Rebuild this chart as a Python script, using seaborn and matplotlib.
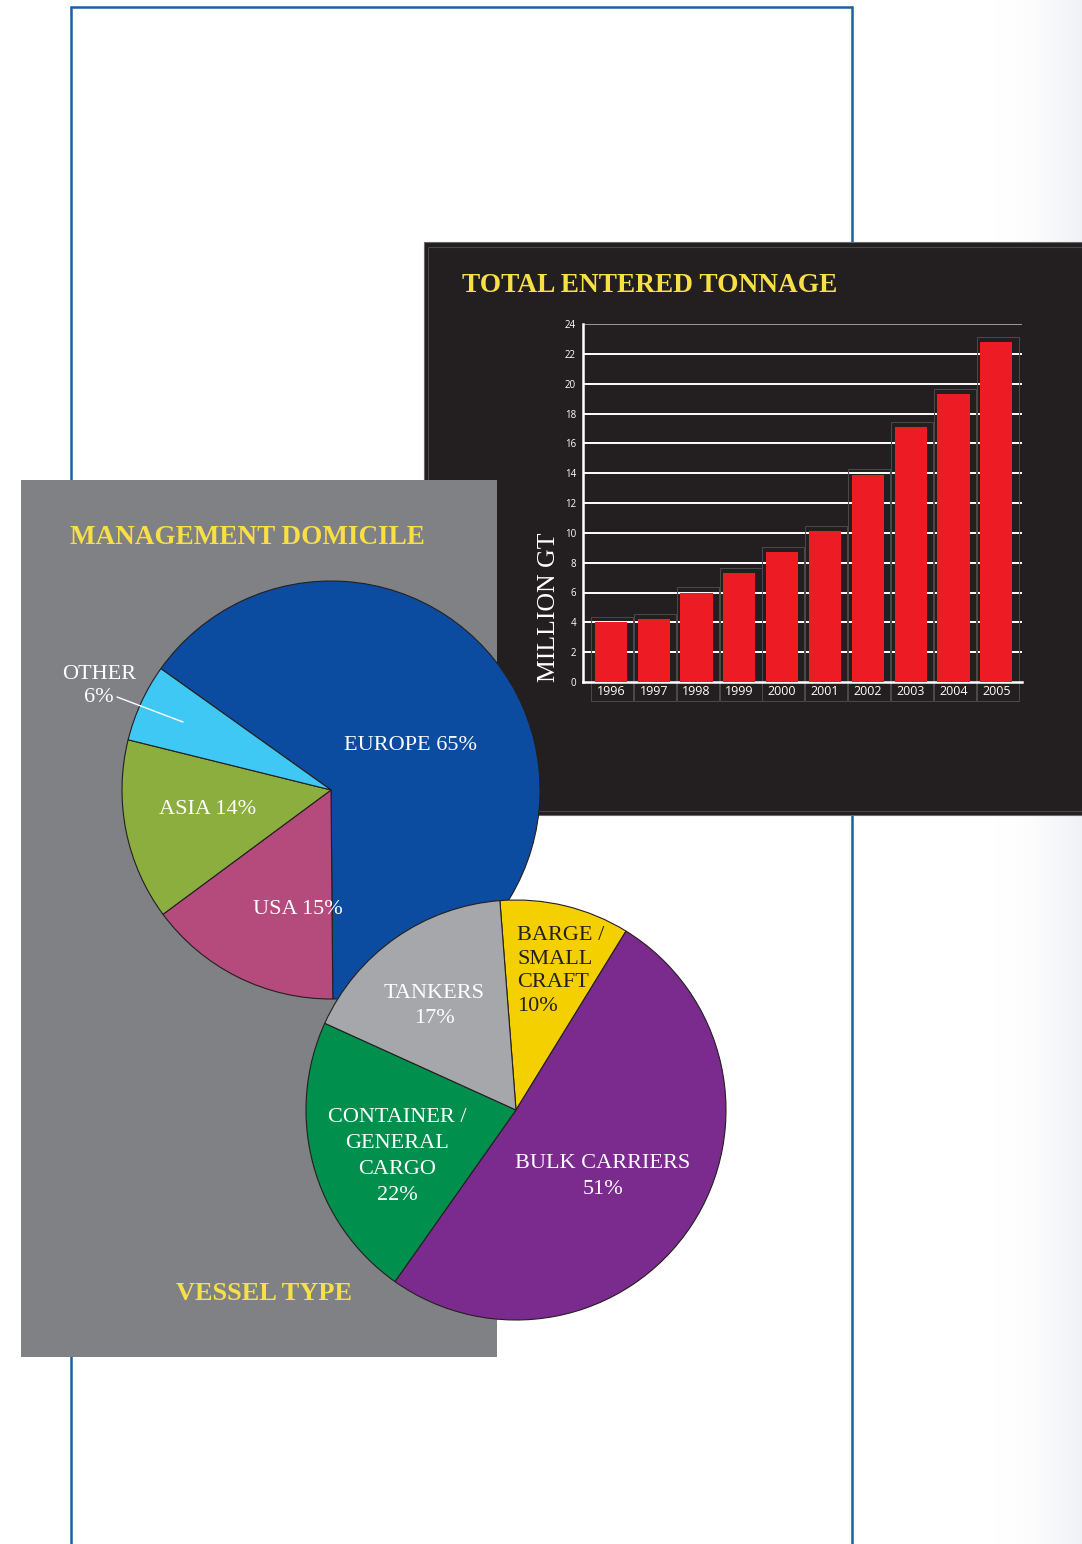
import numpy as np
import matplotlib
matplotlib.use("Agg")
import matplotlib.pyplot as plt
from matplotlib.patches import Rectangle
from matplotlib.lines import Line2D
from matplotlib.colors import LinearSegmentedColormap
import seaborn as sns

# ---- data -------------------------------------------------------------
years = ["1996", "1997", "1998", "1999", "2000",
         "2001", "2002", "2003", "2004", "2005"]
tonnage = [4.0, 4.2, 6.0, 7.3, 8.7, 10.1, 13.9, 17.1, 19.3, 22.8]

domicile_labels = ["EUROPE", "USA", "ASIA", "OTHER"]
domicile_share = [65, 15, 14, 6]

vessel_labels = ["BARGE /\nSMALL\nCRAFT", "BULK CARRIERS",
                 "CONTAINER /\nGENERAL\nCARGO", "TANKERS"]
vessel_share = [10, 51, 22, 17]

# ---- styling ------------------------------------------------------------
sns.set_theme(style="white")
plt.rcParams["font.family"] = ["Open Sans", "DejaVu Sans"]
SERIF = ["Liberation Serif", "DejaVu Serif"]
YELLOW = "#f8df45"
BLUE_FRAME = "#1a5fa8"
PANEL_DARK = "#231f20"
PANEL_GREY = "#808184"
BAR_RED = "#ed1c24"
domicile_colors = ["#0c4ca0", "#b54a7d", "#8cae3e", "#40c8f4"]
vessel_colors = ["#f5d000", "#7b2a8e", "#008f4c", "#a6a7ab"]

W, H = 1082, 1544
fig = plt.figure(figsize=(W / 100, H / 100), dpi=100)
fig.patch.set_facecolor("white")


def fx(px):
    return px / W


def fy(py):
    return 1 - py / H


# faint shading along the right page edge
shade = fig.add_axes([fx(990), 0, (W - 990) / W, 1])
shade.set_zorder(0.2)
shade.imshow(np.linspace(0, 1, 200)[None, :] ** 2, aspect="auto",
             cmap=LinearSegmentedColormap.from_list("edge", ["#ffffff", "#f0f1f6"]),
             extent=(0, 1, 0, 1))
shade.set_axis_off()

# blue page frame
for xs, ys in [((71, 71), (7, 1544)), ((852, 852), (7, 1544)), ((71, 852), (7, 7))]:
    fig.add_artist(Line2D([fx(xs[0]), fx(xs[1])], [fy(ys[0]), fy(ys[1])],
                          transform=fig.transFigure, color=BLUE_FRAME,
                          lw=1.8, zorder=0.5))

# dark panel behind the bar chart
fig.add_artist(Rectangle((fx(424), fy(815)), (W - 424) / W, (815 - 242) / H,
                         transform=fig.transFigure, facecolor=PANEL_DARK,
                         edgecolor="#6a6768", lw=0.8, zorder=1))
fig.add_artist(Rectangle((fx(428), fy(811)), (W - 428 + 5) / W, (811 - 247) / H,
                         transform=fig.transFigure, facecolor="none",
                         edgecolor="#4a4748", lw=0.8, zorder=1.1))
fig.text(fx(462), fy(285), "TOTAL ENTERED TONNAGE", family=SERIF,
         fontweight="bold", fontsize=19.7, color=YELLOW, ha="left",
         va="center", zorder=1.5)
fig.text(fx(549), fy(607), "MILLION GT", family=SERIF, fontsize=18.5,
         color="white", rotation=90, ha="center", va="center", zorder=1.5)

# ---- bar chart ----------------------------------------------------------
ax = fig.add_axes([fx(583), fy(682), (1022 - 583) / W, (682 - 324) / H])
ax.set_zorder(2)
ax.patch.set_alpha(0)
sns.barplot(x=years, y=tonnage, color=BAR_RED, saturation=1, width=0.75,
            ax=ax)
for bar in ax.patches:
    bar.set_zorder(3)
    bar.set_edgecolor("none")
for i, v in enumerate(tonnage):
    ax.add_patch(Rectangle((i - 0.46, -1.25), 0.98, v + 1.6, fill=False,
                           edgecolor="#4d4a4b", lw=0.7, clip_on=False,
                           zorder=2))
ax.set_xlim(-0.65, 9.6)
ax.set_ylim(0, 24)
ax.set_yticks(range(0, 25, 2))
for v in range(2, 25, 2):
    ax.axhline(v, color="white" if v < 24 else "#9a9a9a", lw=1.4, zorder=1)
for side in ["top", "right"]:
    ax.spines[side].set_visible(False)
for side in ["left", "bottom"]:
    ax.spines[side].set_color("white")
    ax.spines[side].set_linewidth(1.8)
ax.tick_params(axis="y", length=0, labelsize=7, labelcolor="white", pad=5)
ax.tick_params(axis="x", length=0, labelsize=9, labelcolor="white", pad=2)
ax.set_xlabel("")
ax.set_ylabel("")
ax.grid(False)

# grey panel with the two pies
fig.add_artist(Rectangle((fx(21), fy(1357)), (497 - 21) / W, (1357 - 480) / H,
                         transform=fig.transFigure, facecolor=PANEL_GREY,
                         edgecolor="none", zorder=3))
fig.text(fx(70), fy(537), "MANAGEMENT DOMICILE", family=SERIF,
         fontweight="bold", fontsize=19.5, color=YELLOW, ha="left",
         va="center", zorder=3.5)
fig.text(fx(264), fy(1294), "VESSEL TYPE", family=SERIF,
         fontweight="bold", fontsize=19, color=YELLOW, ha="center",
         va="center", zorder=3.5)


def pie_axes(cx, cy, r, z):
    a = fig.add_axes([fx(cx - r), fy(cy + r), 2 * r / W, 2 * r / H])
    a.set_zorder(z)
    a.patch.set_alpha(0)
    return a


def to_data(px, py, cx, cy, r):
    return (px - cx) / r, (cy - py) / r


# ---- management domicile pie -------------------------------------------
dcx, dcy, dr = 331, 790, 209
ax1 = pie_axes(dcx, dcy, dr, 4)
wedges, _ = ax1.pie(domicile_share, colors=domicile_colors, startangle=144.5,
                    counterclock=False, radius=1,
                    wedgeprops=dict(edgecolor="#231f20", linewidth=0.8))
for w in wedges:
    w.set_clip_on(False)
ax1.set_xlim(-1, 1)
ax1.set_ylim(-1, 1)
dom_pos = [(411, 746), (298, 909), (208, 809)]
for lab, val, (px, py) in zip(domicile_labels[:3], domicile_share[:3], dom_pos):
    x, y = to_data(px, py, dcx, dcy, dr)
    ax1.text(x, y, f"{lab} {val}%", family=SERIF, fontsize=16,
             color="white", ha="center", va="center")
x, y = to_data(99, 686, dcx, dcy, dr)
ax1.text(x, y, f"{domicile_labels[3]}\n{domicile_share[3]}%", family=SERIF,
         fontsize=16, color="white", ha="center", va="center",
         linespacing=1.3, clip_on=False)
x0, y0 = to_data(117, 697, dcx, dcy, dr)
x1, y1 = to_data(183, 722, dcx, dcy, dr)
ax1.plot([x0, x1], [y0, y1], color="white", lw=1.0, clip_on=False)

# ---- vessel type pie ----------------------------------------------------
vcx, vcy, vr = 516, 1110, 210
ax2 = pie_axes(vcx, vcy, vr, 5)
wedges, _ = ax2.pie(vessel_share, colors=vessel_colors, startangle=94.4,
                    counterclock=False, radius=1,
                    wedgeprops=dict(edgecolor="#231f20", linewidth=0.8))
for w in wedges:
    w.set_clip_on(False)
ax2.set_xlim(-1, 1)
ax2.set_ylim(-1, 1)
ves_pos = [(517, 971, "left", PANEL_DARK, 1.32),
           (603, 1176, "center", "white", 1.5),
           (397, 1156, "center", "white", 1.5),
           (434, 1006, "center", "white", 1.45)]
for lab, val, (px, py, ha, col, ls) in zip(vessel_labels, vessel_share, ves_pos):
    x, y = to_data(px, py, vcx, vcy, vr)
    ax2.text(x, y, f"{lab}\n{val}%", family=SERIF, fontsize=16,
             color=col, ha=ha, va="center", multialignment=ha,
             linespacing=ls)

fig.savefig("out.png", dpi=100, facecolor=fig.get_facecolor())
